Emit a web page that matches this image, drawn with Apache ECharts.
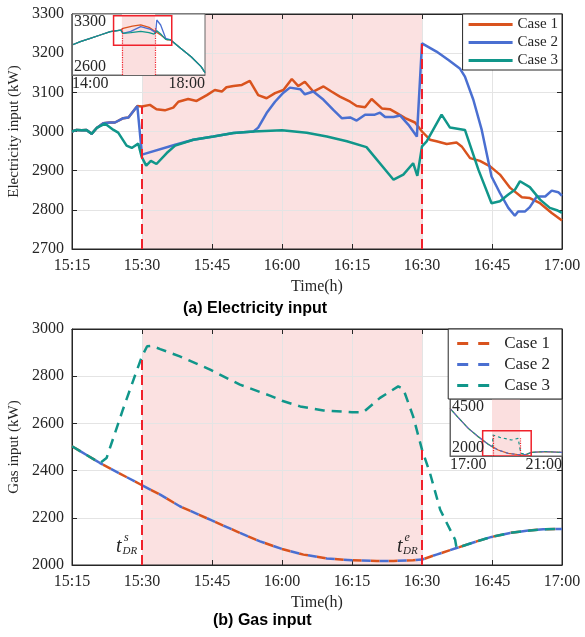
<!DOCTYPE html>
<html>
<head>
<meta charset="utf-8">
<script src="https://cdn.jsdelivr.net/npm/echarts@6/dist/echarts.min.js"></script>
<style>
  html, body { margin: 0; padding: 0; background: #fff; }
  #chart { width: 585px; height: 637px; }
</style>
</head>
<body>
<div id="chart"></div>
<script>
// times are minutes after midnight, values in kW

// (a) electricity input, 15:15 - 17:00
const elecCase1 = [[915,3000],[916,3004],[917.1,3003],[918.1,3004],[919.2,2994],[920.3,3009],[921.7,3021],[923.1,3023],[924.2,3023],[926,3034],[927.1,3036],[929,3065],
  [930,3064],[931.7,3068],[933.1,3057],[934.9,3054],[936.7,3061],[937.8,3076],[939.9,3083],[941.7,3078],[943.9,3093],[945.6,3106],[947.1,3102],[948.1,3113],[949.6,3116],[951.4,3119],[953.1,3129],[954.9,3093],[956.7,3085],[958.5,3098],[960.3,3106],[962.1,3134],[963.5,3116],[964.9,3127],[966.7,3102],[968.9,3115],[970.6,3102],[972.4,3089],[974.6,3076],[976,3065],[977.8,3062],[979.2,3083],[981.4,3059],[983.1,3057],[984.6,3047],[986.4,3034],[988.5,3023],
  [990,3000],[991.7,2979],[993.1,2975],[995.3,2968],[997.4,2972],[998.5,2962],[1000.3,2932],[1002.4,2925],[1004.6,2911],[1006.7,2890],[1008.9,2856],[1011.4,2832],[1013.1,2830],[1015.3,2817],[1017.8,2792],[1020,2773]];
const elecCase2 = [[915,3000],[916,3004],[917.1,3003],[918.1,3004],[919.2,2994],[920.3,3009],[921.7,3021],[923.1,3023],[924.2,3023],[926,3034],[927.1,3036],[929,3065],
  [930,2941],[937.1,2966],[941,2979],[945.3,2987],[949.6,2996],[953.9,3000],[954.9,3010],[956.7,3047],[958.5,3076],[960.3,3099],[961.7,3112],[963.9,3108],[964.9,3095],[966.7,3102],[968.9,3081],[971,3055],[972.8,3034],[974.6,3036],[976,3028],[977.8,3043],[979.9,3043],[981,3048],[982.1,3037],[983.9,3037],[985.3,3041],[987.1,3017],[988.9,2987],
  [990,3225],[993.1,3204],[995.6,3183],[998.1,3161],[999.2,3140],[1001,3081],[1002.8,3004],[1004.9,2885],[1006.7,2843],[1008.5,2805],[1009.9,2785],[1010.6,2796],[1012.1,2796],[1013.1,2807],[1014.6,2834],[1016.4,2834],[1017.8,2849],[1019.2,2845],[1020,2836]];
const elecCase3 = [[915,3000],[916,3004],[917.1,3003],[918.1,3004],[919.2,2994],[920.3,3009],[922.1,3020],[923.9,3004],[924.9,2997],[926.7,2964],[927.8,2958],[929.2,2969],
  [929.9,2936],[930.9,2913],[931.9,2925],[933.1,2917],[935.3,2945],[937.1,2964],[941,2979],[945.3,2987],[949.6,2996],[953.9,3000],[960,3003],[965.3,2997],[969.6,2987],[973.9,2975],[978.1,2960],[983.9,2877],[986,2890],[988.1,2919],[989,2887],
  [990,2962],[991,2975],[994.2,3043],[996,3010],[999.2,3004],[1002.1,2902],[1004.9,2817],[1006.7,2822],[1008.5,2839],[1009.9,2851],[1011,2873],[1013.1,2858],[1015.3,2826],[1017.4,2805],[1018.9,2799],[1020,2792]];

// (b) gas input, 15:15 - 17:00 (case 1 and case 2 coincide)
const gasCase1 = [[915,2503],[921,2432],[930,2338],[933.9,2298],[938.1,2249],[944.6,2192],[951,2136],[955.3,2100],[960,2068],[964.6,2044],[969.6,2028],[975,2020],[980.3,2017],[983.9,2017],[988.1,2020],[990,2023],[993.1,2044],[997.4,2072],[1001.7,2100],[1004.9,2119],[1008.9,2136],[1012.4,2145],[1016,2151],[1020,2153]];
const gasCase2 = [[915,2503],[921,2432],[930,2338],[933.9,2298],[938.1,2249],[944.6,2192],[951,2136],[955.3,2100],[960,2068],[964.6,2044],[969.6,2028],[975,2020],[980.3,2017],[983.9,2017],[988.1,2020],[990,2023],[993.1,2044],[997.4,2072],[1001.7,2100],[1004.9,2119],[1008.9,2136],[1012.4,2145],[1016,2151],[1020,2153]];
const gasCase3 = [[915,2503],[921,2432],[922.4,2453],[925.9,2658],[928.7,2814],[930,2884],[931.1,2927],[932.1,2929],[933.9,2915],[938.1,2884],[944.6,2828],[951,2764],[957.4,2718],[960,2696],[963.9,2672],[968.9,2655],[975,2647],[977.4,2647],[981,2708],[984.9,2757],[986,2746],[988.1,2630],[990,2489],[991.7,2390],[993.9,2234],[997.1,2107],[997.4,2072],[1001.7,2100],[1004.9,2119],[1008.9,2136],[1012.4,2145],[1016,2151],[1020,2153]];

// insets: wider time windows
const insetElec1 = [[840,2944],[855,2983],[873,3021],[891,3059],[909,3097],[928,3116],[932,3136],[949,3162],[964,3174],[979,3147],[991,3097],[1000,3059],[1012,3002],[1018,3002],[1036,2906],[1055,2810],[1073,2696],[1080,2627]];
const insetElec2 = [[840,2944],[855,2983],[873,3021],[891,3059],[909,3097],[928,3116],[932,3078],[946,3100],[964,3155],[982,3124],[991,3086],[993,3231],[1000,3174],[1009,3021],[1018,3002],[1036,2906],[1055,2810],[1073,2696],[1080,2627]];
const insetElec3 = [[840,2944],[855,2983],[873,3021],[891,3059],[909,3097],[928,3116],[932,3078],[946,3086],[964,3101],[979,3086],[988,3070],[993,3109],[1000,3070],[1009,3009],[1018,3002],[1036,2906],[1055,2810],[1073,2696],[1080,2627]];
const insetGas1 = [[1020,4091],[1037.8,3681],[1059.2,3213],[1080.5,2848],[1101.9,2512],[1111.2,2400],[1123.3,2263],[1144.6,2117],[1173.1,2044],[1183.8,2073],[1194.5,2161],[1223,2190],[1260,2161]];
const insetGas3 = [[1020,4091],[1037.8,3681],[1059.2,3213],[1080.5,2848],[1101.9,2512],[1111.2,2400],[1111.9,2921],[1126.8,2819],[1151.8,2702],[1166,2775],[1171.7,2117],[1173.1,2044],[1183.8,2073],[1194.5,2161],[1223,2190],[1260,2161]];
// DR windows shown in the insets
const insetElecDR = [[930,3300],[990,3300]];
const insetGasDR = [[1110,4500],[1170,4500]];

const caseNames = ['Case 1', 'Case 2', 'Case 3'];
const drStart = 930, drEnd = 990;

const SERIF = "'Liberation Serif', 'Times New Roman', serif";
const INK = '#262626';
const ORANGE = '#d9531e', BLUE = '#4a6fd1', TEAL = '#10968a';
const RED = '#f0212b';
const PINK = 'rgba(246,184,184,0.42)';
const PINK_SOLID = '#fbdfdf';

const hm = v => {
  const h = Math.floor(v / 60), m = Math.round(v - h * 60);
  return h + ':' + String(m).padStart(2, '0');
};
const at = (arr, t) => arr.find(d => d[0] === t)[1];

const chart = echarts.init(document.getElementById('chart'));

const labelStyle = { fontFamily: SERIF, fontSize: 16, color: INK };

function mainX(gi, mirror) {
  return {
    gridIndex: gi, type: 'value', min: 915, max: 1020, interval: 15,
    position: mirror ? 'top' : 'bottom',
    name: mirror ? '' : 'Time(h)', nameLocation: 'middle', nameGap: 30,
    nameTextStyle: { fontFamily: SERIF, fontSize: 16, color: INK },
    axisLine: { show: true, onZero: false, lineStyle: { color: INK, width: 1 } },
    axisTick: { show: true, inside: true, length: 5, lineStyle: { color: INK } },
    axisLabel: { show: !mirror, formatter: hm, margin: 9, ...labelStyle },
    splitLine: { show: !mirror, lineStyle: { color: '#e4e4e4' } }
  };
}
function mainY(gi, mirror, min, max, step, name) {
  return {
    gridIndex: gi, type: 'value', min: min, max: max, interval: step,
    position: mirror ? 'right' : 'left',
    name: mirror ? '' : name, nameLocation: 'middle', nameGap: 43,
    nameTextStyle: { fontFamily: SERIF, fontSize: 15, color: INK },
    axisLine: { show: true, onZero: false, lineStyle: { color: INK, width: 1 } },
    axisTick: { show: true, inside: true, length: 5, lineStyle: { color: INK } },
    axisLabel: { show: !mirror, margin: 8, formatter: v => String(v), ...labelStyle },
    splitLine: { show: !mirror, lineStyle: { color: '#e4e4e4' } }
  };
}
function insetX(gi, min, max) {
  return {
    gridIndex: gi, type: 'value', min: min, max: max, z: 13, zlevel: 1,
    axisLine: { show: true, onZero: false, lineStyle: { color: '#666' } },
    axisTick: { show: false }, splitLine: { show: false },
    axisLabel: {
      formatter: v => (v === min || v === max) ? hm(v) : '',
      showMinLabel: true, showMaxLabel: true,
      alignMinLabel: 'left', alignMaxLabel: 'right', margin: 1, ...labelStyle
    }
  };
}
function insetY(gi, min, max) {
  return {
    gridIndex: gi, type: 'value', min: min, max: max, z: 13, zlevel: 1,
    axisLine: { show: true, onZero: false, lineStyle: { color: '#666' } },
    axisTick: { show: false }, splitLine: { show: false },
    axisLabel: {
      inside: true, margin: 2,
      formatter: v => (v === min || v === max) ? String(v) : '',
      showMinLabel: true, showMaxLabel: true,
      verticalAlignMinLabel: 'bottom', verticalAlignMaxLabel: 'top', ...labelStyle
    }
  };
}

function line(name, data, color, xi, yi, extra) {
  return Object.assign({
    name: name, type: 'line', data: data, xAxisIndex: xi, yAxisIndex: yi,
    symbol: 'none', smooth: false, silent: true,
    itemStyle: { color: color },
    lineStyle: { color: color, width: 2.5 }
  }, extra || {});
}

const drLines = (top1, top2, base) => ({
  silent: true, symbol: 'none', label: { show: false },
  lineStyle: { color: RED, type: [10, 5], width: 2 },
  data: [
    [{ coord: [drStart, base] }, { coord: [drStart, top1] }],
    [{ coord: [drEnd, base] }, { coord: [drEnd, top2] }]
  ]
});

// pink DR band drawn as a filled line down to the axis start
const band = (data, xi) => ({
  name: 'band' + xi, type: 'line', data: data, xAxisIndex: xi, yAxisIndex: xi,
  symbol: 'none', silent: true, zlevel: 1, z: 11,
  lineStyle: { width: 0, color: PINK_SOLID },
  areaStyle: { color: PINK_SOLID, opacity: 1, origin: 'start' }
});

const insetMarks = (box, lines) => ({
  markArea: {
    silent: true, z: 13, zlevel: 1,
    data: [[{ coord: box[0], itemStyle: { color: 'rgba(0,0,0,0)', borderColor: RED, borderWidth: 1.5 } }, { coord: box[1] }]]
  },
  markLine: {
    silent: true, z: 13, zlevel: 1, symbol: 'none', label: { show: false },
    lineStyle: { color: RED, type: 'dotted', width: 1.2 },
    data: lines.map(l => [{ coord: l[0] }, { coord: l[1] }])
  }
});

const inset = { zlevel: 1, z: 12 };

const series = [
  // (a)
  line(caseNames[0], elecCase1, ORANGE, 0, 0, {
    markArea: { silent: true, z: -1, itemStyle: { color: PINK }, data: [[{ xAxis: drStart }, { xAxis: drEnd }]] }
  }),
  line(caseNames[1], elecCase2, BLUE, 0, 0),
  line(caseNames[2], elecCase3, TEAL, 0, 0, {
    markLine: drLines(at(elecCase1, drStart), at(elecCase2, drEnd), 2700)
  }),
  // (b)
  line('Gas ' + caseNames[0], gasCase1, ORANGE, 2, 2, {
    lineStyle: { color: ORANGE, width: 2.5, type: [9, 9] },
    markArea: { silent: true, z: -1, itemStyle: { color: PINK }, data: [[{ xAxis: drStart }, { xAxis: drEnd }]] }
  }),
  line('Gas ' + caseNames[1], gasCase2, BLUE, 2, 2, {
    lineStyle: { color: BLUE, width: 2.5, type: [9, 9], dashOffset: 9 }
  }),
  line('Gas ' + caseNames[2], gasCase3, TEAL, 2, 2, {
    lineStyle: { color: TEAL, width: 2.5, type: [10, 7] },
    markLine: drLines(at(gasCase3, drStart), at(gasCase3, drEnd), 2000)
  }),
  // inset (a)
  band(insetElecDR, 4),
  line('ia1', insetElec1, ORANGE, 4, 4, Object.assign({ lineStyle: { color: ORANGE, width: 1.3 } }, inset,
    insetMarks([[915, 2940], [1020, 3280]],
      [[[drStart, 2600], [drStart, 3150]], [[drEnd, 2600], [drEnd, 3150]]]))),
  line('ia2', insetElec2, BLUE, 4, 4, Object.assign({ lineStyle: { color: BLUE, width: 1.3 } }, inset)),
  line('ia3', insetElec3, TEAL, 4, 4, Object.assign({ lineStyle: { color: TEAL, width: 1.3 } }, inset)),
  // inset (b)
  band(insetGasDR, 5),
  line('ib1', insetGas1, ORANGE, 5, 5, Object.assign({ lineStyle: { color: ORANGE, width: 1.2 } }, inset,
    insetMarks([[1090, 2000], [1194, 3110]],
      [[[1111.9, 2000], [1111.9, 2900]], [[1171, 2000], [1171, 2780]]]))),
  line('ib2', insetGas1, BLUE, 5, 5, Object.assign({ lineStyle: { color: BLUE, width: 1.2, type: [3, 3] } }, inset)),
  line('ib3', insetGas3, TEAL, 5, 5, Object.assign({ lineStyle: { color: TEAL, width: 1.2, type: [3, 3], dashOffset: 3 } }, inset))
];

const legendBase = {
  orient: 'vertical', backgroundColor: '#fff', borderColor: INK, borderWidth: 1,
  borderRadius: 0, z: 20, zlevel: 2, selectedMode: false
};

const sub = (x, y, text, size) => ({
  type: 'text', x: x, y: y, silent: true,
  style: { text: text, font: 'italic ' + size + 'px ' + SERIF, fill: INK, verticalAlign: 'middle' }
});

const gridBase = { show: true, containLabel: false, outerBoundsMode: 'none' };

chart.setOption({
  animation: false,
  backgroundColor: '#fff',
  title: [
    { text: '(a) Electricity input', left: 183, top: 301, padding: 0,
      textStyle: { fontFamily: "'Liberation Sans', Arial, sans-serif", fontSize: 16, fontWeight: 'bold', color: '#000' } },
    { text: '(b) Gas input', left: 213, top: 613, padding: 0,
      textStyle: { fontFamily: "'Liberation Sans', Arial, sans-serif", fontSize: 16, fontWeight: 'bold', color: '#000' } }
  ],
  grid: [
    Object.assign({ left: 72, right: 23, top: 14, height: 235, borderColor: INK, borderWidth: 1, backgroundColor: 'transparent' }, gridBase),
    Object.assign({ left: 72, right: 23, top: 329, height: 236, borderColor: INK, borderWidth: 1, backgroundColor: 'transparent' }, gridBase),
    Object.assign({ left: 72, top: 14, width: 133, height: 61, zlevel: 1, z: 10, backgroundColor: '#fff', borderColor: '#666', borderWidth: 1 }, gridBase),
    Object.assign({ left: 450, top: 399, width: 112, height: 57, zlevel: 1, z: 10, backgroundColor: '#fff', borderColor: '#666', borderWidth: 1 }, gridBase)
  ],
  xAxis: [mainX(0, false), mainX(0, true), mainX(1, false), mainX(1, true), insetX(2, 840, 1080), insetX(3, 1020, 1260)],
  yAxis: [
    mainY(0, false, 2700, 3300, 100, 'Electricity input (kW)'), mainY(0, true, 2700, 3300, 100, ''),
    mainY(1, false, 2000, 3000, 200, 'Gas input (kW)'), mainY(1, true, 2000, 3000, 200, ''),
    insetY(2, 2600, 3300), insetY(3, 2000, 4500)
  ],
  legend: [
    Object.assign({}, legendBase, {
      data: caseNames, right: 23, top: 14, padding: [2, 4, 1, 6], itemGap: 1,
      icon: 'path://M0,0H44V3H0Z', itemWidth: 44, itemHeight: 3,
      textStyle: { fontFamily: SERIF, fontSize: 15, color: INK, lineHeight: 17 }
    }),
    Object.assign({}, legendBase, {
      data: caseNames.map(n => 'Gas ' + n), formatter: n => n.replace('Gas ', ''),
      right: 23, top: 329, padding: [5, 12, 4, 9], itemGap: 2,
      icon: 'path://M0,0H11V3H0ZM21,0H32V3H21Z', itemWidth: 32, itemHeight: 3,
      textStyle: { fontFamily: SERIF, fontSize: 17, color: INK, lineHeight: 19, padding: [0, 0, 0, 10] }
    })
  ],
  graphic: [
    sub(116, 547, 't', 20), sub(124, 538, 's', 12), sub(122.5, 551.5, 'DR', 11),
    sub(397, 547, 't', 20), sub(404.5, 537.5, 'e', 12), sub(403, 551.5, 'DR', 11)
  ],
  series: series
});
</script>
</body>
</html>
